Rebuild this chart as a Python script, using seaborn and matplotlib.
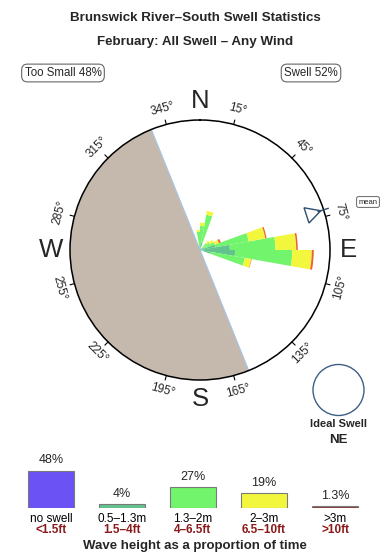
import numpy as np
import matplotlib
matplotlib.use("Agg")
import matplotlib.pyplot as plt
import matplotlib.transforms as mtransforms
from matplotlib.patches import Ellipse, Polygon
import seaborn as sns

# ---------------- data ----------------
title1 = "Brunswick River\u2013South Swell Statistics"
title2 = "February: All Swell \u2013 Any Wind"
too_small_pct = 48
swell_pct = 52

# rose: direction bins (deg, centre of 10 deg bins) and stacked band lengths (circle = 100)
directions = [355, 5, 15, 45, 55, 65, 75, 85, 95, 105]
band_05_13 = [3, 4, 6, 2, 3, 4, 12, 23, 27, 8]
band_13_2 = [11, 14.5, 21.5, 5, 6, 8, 26, 35, 44, 27]
band_2_3 = [1.5, 2.5, 3, 2.5, 3, 3.5, 13, 16, 15, 5]
band_gt3 = [0, 0, 0, 0, 0, 1.5, 1, 1.2, 1.5, 0.3]
rose_colors = ["#62c38e", "#72f56c", "#f2f73e", "#f0602c"]

land_from, land_to = 158, 338          # shaded (land) sector, clockwise through west
mean_dir = 72
ideal_label = "NE"
tick_angles = list(range(15, 360, 30))
cardinals = ["N", "E", "S", "W"]

# legend
leg_pcts = [48, 4, 27, 19, 1.3]
leg_pct_labels = ["48%", "4%", "27%", "19%", "1.3%"]
leg_m = ["no swell", "0.5\u20131.3m", "1.3\u20132m", "2\u20133m", ">3m"]
leg_ft = ["<1.5ft", "1.5\u20134ft", "4\u20136.5ft", "6.5\u201310ft", ">10ft"]
leg_colors = ["#6a52f5", "#62c38e", "#72f56c", "#f2f73e", "#8b3a3a"]

# ---------------- style ----------------
sns.set_theme(style="white")
plt.rcParams["font.family"] = ["Liberation Sans", "DejaVu Sans"]

W, H = 390, 560
fig = plt.figure(figsize=(W / 100, H / 100), dpi=100)
fig.patch.set_facecolor("white")

def fx(x):
    return x / W

def fy(y):
    return 1 - y / H

# titles
fig.text(0.5, fy(18), title1, ha="center", va="center", fontsize=9.6, weight="bold")
fig.text(0.5, fy(42), title2, ha="center", va="center", fontsize=9.6, weight="bold")
box = dict(boxstyle="round,pad=0.25,rounding_size=0.5", fc="white", ec="#666666", lw=0.8)
fig.text(fx(63), fy(73), f"Too Small {too_small_pct}%", ha="center", va="center",
         fontsize=8.3, bbox=box)
fig.text(fx(311), fy(73), f"Swell {swell_pct}%", ha="center", va="center",
         fontsize=8.3, bbox=box)

# ---------------- rose ----------------
cx, cy, R = 200, 250, 130
ax = fig.add_axes([fx(cx - R), fy(cy + R), 2 * R / W, 2 * R / H], projection="polar")
ax.set_theta_zero_location("N")
ax.set_theta_direction(-1)
ax.set_ylim(0, 100)
ax.grid(False)
ax.set_xticks([])
ax.set_yticks([])
ax.set_facecolor("white")
ax.spines["polar"].set_linewidth(1.1)
ax.spines["polar"].set_color("black")

# land sector
span = (land_to - land_from) % 360
mid = np.deg2rad(land_from + span / 2)
ax.bar(mid, 100, width=np.deg2rad(span), bottom=0, color="#c5b9ad", edgecolor="none", zorder=1)
for a in (land_from, land_to):
    ax.plot([np.deg2rad(a)] * 2, [0, 100], color="#a9c4e0", lw=0.9, zorder=1.5)

theta = np.deg2rad(directions)
width = np.deg2rad(10)
bottom = np.zeros(len(directions))
for vals, col in zip([band_05_13, band_13_2, band_2_3, band_gt3], rose_colors):
    vals = np.asarray(vals, dtype=float)
    ax.bar(theta, vals, width=width, bottom=bottom, color=col, edgecolor="none", zorder=2)
    bottom = bottom + vals

# tick marks and labels
for t in tick_angles:
    ax.plot([np.deg2rad(t)] * 2, [100, 103.5], color="black", lw=0.8, clip_on=False, zorder=3)
    rot = ((-t + 90) % 180) - 90
    ax.text(np.deg2rad(t), 112, f"{t}\u00b0", rotation=rot, rotation_mode="anchor",
            ha="center", va="center", fontsize=8.5, clip_on=False)
for i, c in enumerate(cardinals):
    ax.text(np.deg2rad(90 * i), 114.5, c, ha="center", va="center", fontsize=18.5,
            clip_on=False)

# mean arrow (pixel geometry around the rose centre)
a = np.deg2rad(mean_dir)
u = np.array([np.sin(a), -np.cos(a)])
v = np.array([np.cos(a), np.sin(a)])
c0 = np.array([cx, cy])
pts = [c0 + 112 * u + 8 * v, c0 + 127 * u, c0 + 112 * u - 8 * v]
fig.add_artist(Polygon([(fx(p[0]), fy(p[1])) for p in pts], closed=True,
                       transform=fig.transFigure, fc="white", ec="#2c4e70", lw=1, zorder=5))
s0, s1 = c0 + 124 * u, c0 + 135 * u
fig.add_artist(plt.Line2D([fx(s0[0]), fx(s1[0])], [fy(s0[1]), fy(s1[1])],
                          transform=fig.transFigure, color="#2c4e70", lw=1, zorder=5))
fig.text(fx(368), fy(202), "mean", ha="center", va="center", fontsize=5.5,
         bbox=dict(boxstyle="round,pad=0.25", fc="white", ec="#666666", lw=0.7))

# ideal swell
fig.add_artist(Ellipse((fx(338.5), fy(390)), width=51 / W, height=51 / H,
                       transform=fig.transFigure, fill=False, ec="#3d5f85", lw=1))
fig.text(fx(338), fy(424), "Ideal Swell", ha="center", va="center", fontsize=8, weight="bold")
fig.text(fx(338), fy(440), ideal_label, ha="center", va="center", fontsize=9.5, weight="bold")

# ---------------- legend bars ----------------
step = 71
left = 15.5
base = 507.5
scale = 0.77  # px per percent
lax = fig.add_axes([fx(left), fy(base), 5 * step / W, 50 / H])
sns.barplot(x=leg_m, y=leg_pcts, hue=leg_m, palette=leg_colors, legend=False,
            saturation=1, width=0.65, edgecolor="#7a7a7a", linewidth=0.8, ax=lax)
lax.set_xlim(-0.5, 4.5)
lax.set_ylim(0, 50 / scale)
lax.axis("off")
for i, (p, lab) in enumerate(zip(leg_pcts, leg_pct_labels)):
    lax.annotate(lab, (i, p), xytext=(0, 3), textcoords="offset points",
                 ha="center", va="bottom", fontsize=9, annotation_clip=False)
bt = mtransforms.blended_transform_factory(lax.transData, fig.transFigure)
for i, (m, ft) in enumerate(zip(leg_m, leg_ft)):
    lax.text(i, fy(519), m, transform=bt, ha="center", va="center", fontsize=8.5,
             color="black")
    lax.text(i, fy(530), ft, transform=bt, ha="center", va="center", fontsize=8.5,
             color="#8b1a1a", weight="bold")
fig.text(0.5, fy(546), "Wave height as a proportion of time", ha="center", va="center",
         fontsize=9.5, weight="bold")

fig.savefig("out.png", dpi=100)
